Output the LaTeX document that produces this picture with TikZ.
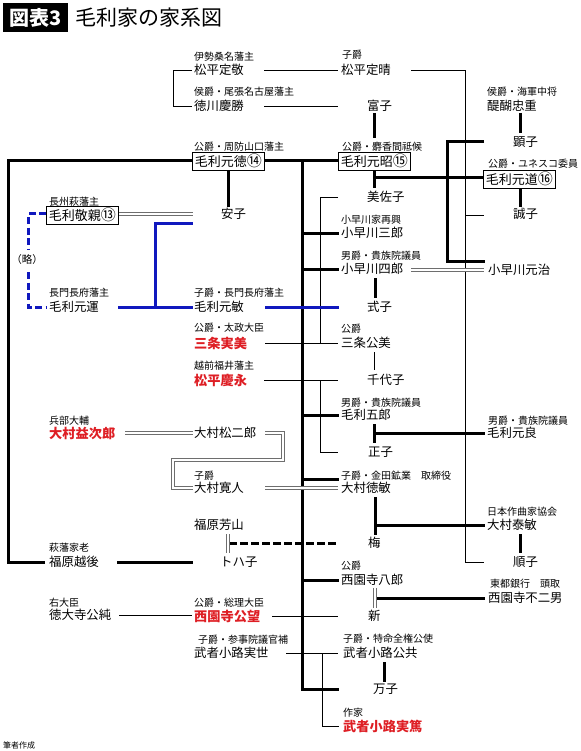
\documentclass[tikz,border=0pt]{standalone}
\usepackage{fontspec}
\setmainfont{Noto Sans CJK JP}
\definecolor{jred}{RGB}{222,30,36}
\definecolor{jblue}{RGB}{16,24,190}
\definecolor{dgray}{RGB}{110,110,110}
\newcommand{\circnum}[1]{{\fontsize{15}{13}\selectfont #1}}
\tikzset{
  lbl/.style={font=\fontsize{10}{10}\selectfont, anchor=west, inner xsep=2pt, inner ysep=0.5pt},
  nm/.style={font=\fontsize{12.4}{12.4}\selectfont, anchor=west, inner xsep=2pt, inner ysep=0.5pt},
  rednm/.style={anchor=west, inner xsep=2pt, inner ysep=0.5pt, text=jred, font=\fontsize{13.2}{13.2}\selectfont\bfseries},
  boxnm/.style={anchor=west, draw, line width=0.8pt, inner xsep=2.5pt, inner ysep=0pt, minimum height=18pt, font=\fontsize{13}{13}\selectfont},
  thinln/.style={line width=0.8pt},
  thickln/.style={line width=3pt},
  dbl/.style={draw=white, line width=1.3pt, preaction={draw=dgray, line width=3.1pt}},
  blueln/.style={line width=3pt, draw=jblue},
}
\begin{document}
\begin{tikzpicture}[x=1pt,y=-1pt]
\useasboundingbox (0,0) rectangle (580,751);
% title
\node[fill=black, text=white, font=\fontsize{20}{20}\selectfont\bfseries, minimum width=65pt, minimum height=29pt, inner sep=0] (ttlbox) at (35.5,17.5) {図表3};
\node[anchor=west, font=\fontsize{21}{21}\selectfont, inner sep=0] (ttl) at (75,18) {毛利家の家系図};

% ---------- lines (drawn first) ----------
% thin
\draw[thinln] (192,70) -- (173,70) -- (173,106) -- (192,106);
\draw[thinln] (264,70) -- (338,70);
\draw[thinln] (264,106) -- (338,106);
\draw[thinln] (411,70) -- (465,70) -- (465,562) -- (484,562);
\draw[thinln] (465,215) -- (484,215);
\draw[thinln] (338,197) -- (320,197) -- (320,343);
\draw[thinln] (265,343) -- (338,343);
\draw[thinln] (374,352) -- (374,370);
\draw[thinln] (264,380) -- (338,380);
\draw[thinln] (320,380) -- (320,452) -- (338,452);
\draw[thinln] (119,615) -- (192,615);
\draw[thinln] (272,616) -- (338,616);
\draw[thinln] (286,653) -- (338,653);
\draw[thinln] (322,653) -- (322,726) -- (339,726);

% thick
\draw[thickln] (192,161) -- (8,161) -- (8,562) -- (45,562);
\draw[thickln] (265,161) -- (338,161);
\draw[thickln] (117,562) -- (193,562);
\draw[thickln] (228,170) -- (228,207);
\draw[thickln] (374,113) -- (374,138);
\draw[thickln] (374,169) -- (374,188);
\draw[thickln] (374,178) -- (483,178);
\draw[thickln] (520,113) -- (520,133);
\draw[thickln] (484,142) -- (447,142) -- (447,261) -- (485,261);
\draw[thickln] (520,188) -- (520,207);
\draw[thickln] (302,161) -- (302,689) -- (339,689);
\foreach \yy in {233,269,415,479,580} \draw[thickln] (302,\yy) -- (339,\yy);
\draw[thickln] (375,278) -- (375,298);
\draw[thickln] (374,424) -- (374,443);
\draw[thickln] (374,433) -- (485,433);
\draw[thickln] (375,497) -- (375,535);
\draw[thickln] (375,525) -- (485,525);
\draw[thickln] (520,534) -- (520,553);
\draw[thickln] (375,598) -- (485,598);
\draw[thickln] (384,662) -- (384,682);
\draw[thickln, dash pattern=on 7.5pt off 3.5pt] (229,543) -- (338,543);

% blue
\draw[blueln, dash pattern=on 7pt off 3.5pt] (46,214) -- (28,214) -- (28,249);
\draw[blueln, dash pattern=on 7pt off 3.5pt] (28,272) -- (28,307) -- (47,307);
\draw[blueln] (118,307) -- (193,307);
\draw[blueln] (155,307) -- (155,223) -- (193,223);
\draw[blueln] (265,307) -- (339,307);

% double
\draw[dbl] (118,214) -- (193,214);
\draw[dbl] (411,270) -- (484,270);
\draw[dbl] (125,433) -- (193,433);
\draw[dbl] (265,433) -- (283,433) -- (283,460) -- (173,460) -- (173,488) -- (193,488);
\draw[dbl] (265,488) -- (338,488);
\draw[dbl] (228,534) -- (228,553);
\draw[dbl] (375,588) -- (375,608);

% ---------- column A ----------
\node[lbl] (l1) at (47,202) {長州萩藩主};
\node[boxnm, fill=white] (takachika) at (46,215) {毛利敬親\circnum{⑬}};
\node[lbl] (l2) at (47,293) {長門長府藩主};
\node[nm] (motomichiC) at (47,307) {毛利元運};
\node[lbl] (l3) at (47,421) {兵部大輔};
\node[rednm] (omura) at (47,433) {大村益次郎};
\node[lbl] (l4) at (47,548) {萩藩家老};
\node[nm] (echigo) at (47,562) {福原越後};
\node[lbl] (l5) at (47,603) {右大臣};
\node[nm] (tokudaiji) at (47,615) {徳大寺公純};
\node[font=\fontsize{10.5}{10.5}\selectfont, inner sep=0] (ryaku) at (27,260) {（略）};

% ---------- column B ----------
\node[lbl] (l6) at (192,57) {伊勢桑名藩主};
\node[nm] (sadaaki) at (192,70) {松平定敬};
\node[lbl] (l7) at (192,92) {侯爵・尾張名古屋藩主};
\node[nm] (yoshikatsu) at (192,106) {徳川慶勝};
\node[lbl] (l8) at (192,147) {公爵・周防山口藩主};
\node[boxnm, fill=white] (motonori) at (192,161) {毛利元徳\circnum{⑭}};
\node[nm] (yasuko) at (219,214) {安子};
\node[lbl] (l9) at (192,293) {子爵・長門長府藩主};
\node[nm] (motoyuki) at (192,307) {毛利元敏};
\node[lbl] (l10) at (192,328) {公爵・太政大臣};
\node[rednm] (sanetomi) at (192,343) {三条実美};
\node[lbl] (l11) at (192,366) {越前福井藩主};
\node[rednm] (yoshinaga) at (192,380) {松平慶永};
\node[nm] (matsujiro) at (192,433) {大村松二郎};
\node[lbl] (l12) at (192,476) {子爵};
\node[nm] (hiroto) at (192,488) {大村寛人};
\node[nm] (hozan) at (192,525) {福原芳山};
\node[nm] (tohako) at (218,562) {トハ子};
\node[lbl] (l13) at (192,603) {公爵・総理大臣};
\node[rednm] (saionji) at (192,616) {西園寺公望};
\node[lbl] (l14) at (196,640) {子爵・参事院議官補};
\node[nm] (saneyo) at (192,653) {武者小路実世};

% ---------- column C ----------
\node[lbl] (l15) at (340,55) {子爵};
\node[nm] (sadaharu) at (339,70) {松平定晴};
\node[nm] (tomiko) at (365,106) {富子};
\node[lbl] (l16) at (340,147) {公爵・麝香間祗候};
\node[boxnm, fill=white] (motoakira) at (338,161) {毛利元昭\circnum{⑮}};
\node[nm] (misako) at (365,197) {美佐子};
\node[lbl] (l17) at (339,220) {小早川家再興};
\node[nm] (saburo) at (339,233) {小早川三郎};
\node[lbl] (l18) at (339,256) {男爵・貴族院議員};
\node[nm] (shiro) at (339,269) {小早川四郎};
\node[nm] (shikiko) at (365,307) {式子};
\node[lbl] (l19) at (339,329) {公爵};
\node[nm] (kinharu) at (339,343) {三条公美};
\node[nm] (chiyoko) at (365,380) {千代子};
\node[lbl] (l20) at (339,403) {男爵・貴族院議員};
\node[nm] (goro) at (339,415) {毛利五郎};
\node[nm] (masako) at (366,452) {正子};
\node[lbl] (l21) at (339,476) {子爵・金田鉱業　取締役};
\node[nm] (noritoshi) at (339,488) {大村徳敏};
\node[nm] (ume) at (366,543) {梅};
\node[lbl] (l22) at (339,566) {公爵};
\node[nm] (hachiro) at (339,580) {西園寺八郎};
\node[nm] (shin) at (366,616) {新};
\node[lbl] (l23) at (341,639) {子爵・特命全権公使};
\node[nm] (kintomo) at (341,653) {武者小路公共};
\node[nm] (kazuko) at (371,689) {万子};
\node[lbl] (l24) at (341,713) {作家};
\node[rednm] (saneatsu) at (341,726) {武者小路実篤};

% ---------- column D ----------
\node[lbl] (l25) at (485,92) {侯爵・海軍中将};
\node[nm] (tadashige) at (485,106) {醍醐忠重};
\node[nm] (akiko) at (511,142) {顕子};
\node[lbl] (l26) at (486,164) {公爵・ユネスコ委員};
\node[boxnm, fill=white] (motomichi) at (483,179) {毛利元道\circnum{⑯}};
\node[nm] (nobuko) at (511,214) {誠子};
\node[nm] (motoharu) at (486,270) {小早川元治};
\node[lbl] (l27) at (486,421) {男爵・貴族院議員};
\node[nm] (motoyoshi) at (485,433) {毛利元良};
\node[lbl] (l28) at (485,512) {日本作曲家協会};
\node[nm] (yasutoshi) at (485,525) {大村泰敏};
\node[nm] (junko) at (511,562) {順子};
\node[lbl] (l29) at (488,584) {東都銀行　頭取};
\node[nm] (fujio) at (486,598) {西園寺不二男};

\node[font=\fontsize{8}{8}\selectfont, anchor=west, inner sep=0] (credit) at (3,745) {筆者作成};
\end{tikzpicture}
\end{document}
